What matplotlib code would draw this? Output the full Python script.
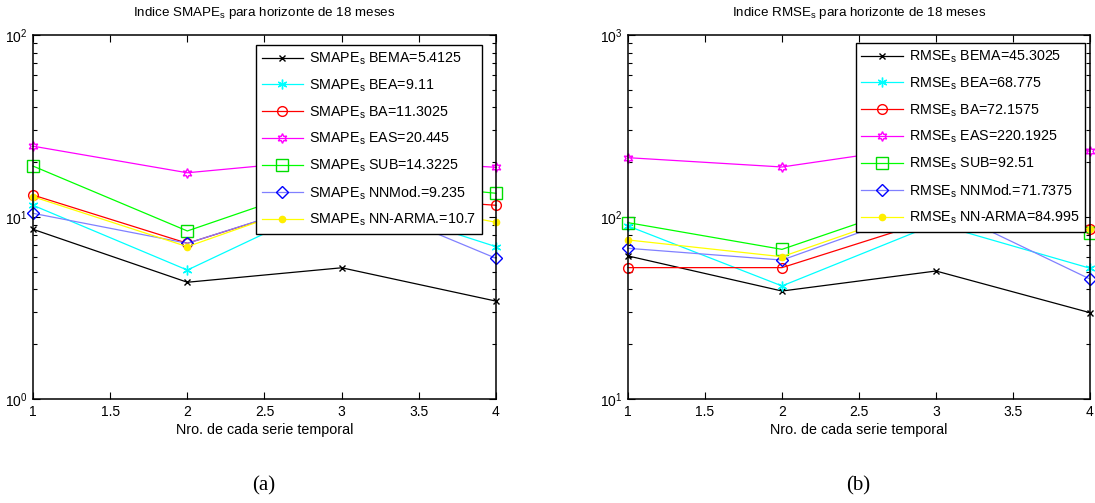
import matplotlib
matplotlib.use("Agg")
import matplotlib.pyplot as plt
from matplotlib.ticker import LogLocator, FixedLocator, FormatStrFormatter

plt.rcParams['font.family'] = ['Liberation Sans', 'DejaVu Sans']
plt.rcParams['mathtext.fontset'] = 'custom'
plt.rcParams['mathtext.rm'] = 'Liberation Sans'
plt.rcParams['mathtext.it'] = 'Liberation Sans:italic'
plt.rcParams['mathtext.bf'] = 'Liberation Sans:bold'

series_x = [1, 2, 3, 4]

# SMAPE per series
smape_bema = [8.56, 4.38, 5.26, 3.45]
smape_bea = [11.6, 5.11, 12.86, 6.87]
smape_ba = [13.2, 7.17, 13.24, 11.6]
smape_eas = [24.5, 17.5, 21.0, 18.75]
smape_sub = [19.05, 8.38, 16.36, 13.5]
smape_nnmod = [10.48, 7.17, 13.36, 5.93]
smape_nnarma = [12.93, 6.87, 13.65, 9.35]
smape_means = ['5.4125', '9.11', '11.3025', '20.445', '14.3225', '9.235', '10.7']
smape_names = ['BEMA', 'BEA', 'BA', 'EAS', 'SUB', 'NNMod.', 'NN-ARMA.']

# RMSE per series
rmse_bema = [61.1, 39.2, 50.5, 29.8]
rmse_bea = [89.3, 41.8, 91.7, 52.3]
rmse_ba = [52.7, 52.7, 97.7, 85.5]
rmse_eas = [211.8, 188.3, 250.2, 230.5]
rmse_sub = [93.1, 66.4, 129.1, 81.4]
rmse_nnmod = [67.3, 58.0, 116.05, 45.6]
rmse_nnarma = [74.8, 60.5, 119.2, 85.5]
rmse_means = ['45.3025', '68.775', '72.1575', '220.1925', '92.51', '71.7375', '84.995']
rmse_names = ['BEMA', 'BEA', 'BA', 'EAS', 'SUB', 'NNMod.', 'NN-ARMA']

x_ticks = [1, 1.5, 2, 2.5, 3, 3.5, 4]

styles = [
    dict(color='black', marker='x', ms=4, mfc='none', mec='black'),
    dict(color='#00ffff', marker=(6, 2, 0), ms=7, mfc='none', mec='#00ffff'),
    dict(color='red', marker='o', ms=7, mfc='none', mec='red'),
    dict(color='magenta', marker=(6, 1, 0), ms=7, mfc='none', mec='magenta'),
    dict(color='#00ff00', marker='s', ms=8, mfc='none', mec='#00dd00'),
    dict(color='#8080ff', marker='D', ms=6, mfc='none', mec='blue'),
    dict(color='#ffff00', marker='o', ms=4.5, mfc='#ffee00', mec='#ffee00'),
]

fig = plt.figure(figsize=(10.95, 5.03), dpi=100)
ax1 = fig.add_axes([33 / 1095, 104 / 503, 463 / 1095, 364 / 503])
ax2 = fig.add_axes([628 / 1095, 104 / 503, 462 / 1095, 364 / 503])


def draw(ax, data, metric, names, means, ylim, anchor):
    for vals, st, name, mean in zip(data, styles, names, means):
        ax.plot(series_x, vals, lw=0.9, label=metric + r'$_{\rm s}$ ' + name + '=' + mean,
                clip_on=False, **st)
    ax.set_yscale('log')
    ax.set_ylim(*ylim)
    ax.set_xlim(1, 4)
    ax.xaxis.set_major_locator(FixedLocator(x_ticks))
    ax.xaxis.set_major_formatter(FormatStrFormatter('%g'))
    ax.yaxis.set_major_locator(LogLocator(base=10, numticks=10))
    ax.yaxis.set_minor_locator(LogLocator(base=10, subs=range(2, 10), numticks=20))
    ax.tick_params(which='both', direction='in', top=True, right=True, labelsize=10)
    ax.tick_params(which='major', length=5, width=0.8, pad=4)
    ax.tick_params(which='minor', length=3, width=0.8)
    for sp in ax.spines.values():
        sp.set_linewidth(1.1)
    ax.set_title('Indice ' + metric + r'$_{\rm s}$ para horizonte de 18 meses', fontsize=9.6, pad=14)
    ax.set_xlabel('Nro. de cada serie temporal', fontsize=10.3, labelpad=3)
    leg = ax.legend(loc='upper right', bbox_to_anchor=anchor, borderaxespad=0, fontsize=10.3,
                    fancybox=False, framealpha=1, edgecolor='black', handlelength=2.9,
                    labelspacing=0.72, borderpad=0.4, handletextpad=0.42)
    leg.get_frame().set_linewidth(1.0)
    leg.set_zorder(5)


draw(ax1, [smape_bema, smape_bea, smape_ba, smape_eas, smape_sub, smape_nnmod, smape_nnarma],
     'SMAPE', smape_names, smape_means, (1, 100), (0.970, 0.9725))
draw(ax2, [rmse_bema, rmse_bea, rmse_ba, rmse_eas, rmse_sub, rmse_nnmod, rmse_nnarma],
     'RMSE', rmse_names, rmse_means, (10, 1000), (0.989, 0.978))

fig.text(264 / 1095, 1 - 486 / 503, '(a)', family='Liberation Serif', fontsize=15,
         ha='center', va='center')
fig.text(858 / 1095, 1 - 486 / 503, '(b)', family='Liberation Serif', fontsize=15,
         ha='center', va='center')

fig.savefig('out.png', dpi=100)
